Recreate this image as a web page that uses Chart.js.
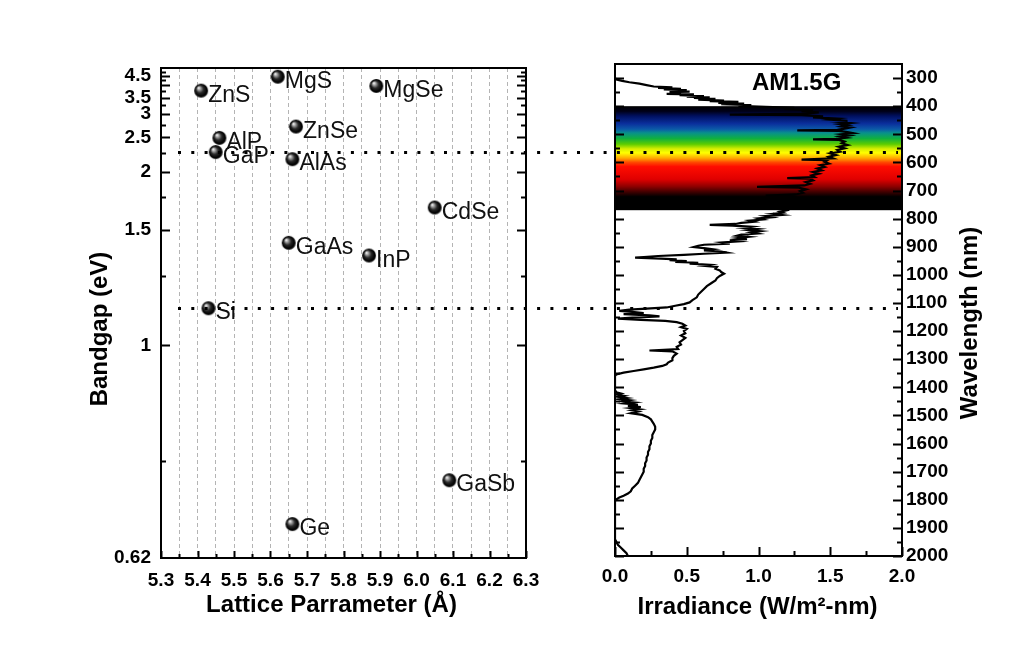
<!DOCTYPE html>
<html>
<head>
<meta charset="utf-8">
<title>Bandgap vs lattice parameter / AM1.5G</title>
<script src="https://cdn.jsdelivr.net/npm/chart.js@4.4.1/dist/chart.umd.min.js"></script>
<style>
    html, body { margin: 0; padding: 0; background: #fff; }
    #wrap { position: relative; width: 1034px; height: 651px; overflow: hidden; }
    .panel { position: absolute; top: 0; height: 651px; }
    #left-panel { left: 0; width: 570px; }
    #right-panel { left: 570px; width: 464px; }
</style>
</head>
<body>
<div id="wrap">
    <div class="panel" id="left-panel"><canvas id="chart-gap" width="570" height="651"></canvas></div>
    <div class="panel" id="right-panel"><canvas id="chart-sun" width="464" height="651"></canvas></div>
</div>
<script>
// --- Data ---

// semiconductors: lattice constant (Å) and bandgap (eV)
const materials = ['ZnS', 'MgS', 'AlP', 'GaP', 'ZnSe', 'AlAs', 'MgSe', 'CdSe', 'GaAs', 'InP', 'Si', 'GaSb', 'Ge'];
const latticeA  = [5.41, 5.62, 5.46, 5.45, 5.67, 5.66, 5.89, 6.05, 5.65, 5.87, 5.43, 6.09, 5.66];
const bandgapEv = [3.77, 4.44, 2.49, 2.26, 2.71, 2.16, 3.97, 1.66, 1.42, 1.35, 1.12, 0.72, 0.66];

// dotted guides across both panels (GaP and Si gaps)
const guideGaps = [2.26, 1.12];

// axis ticks
const latticeMajor = [5.3, 5.4, 5.5, 5.6, 5.7, 5.8, 5.9, 6.0, 6.1, 6.2, 6.3];
const latticeMinor = [5.35, 5.45, 5.55, 5.65, 5.75, 5.85, 5.95, 6.05, 6.15, 6.25];
const gapLabels = [0.62, 1, 1.5, 2, 2.5, 3, 3.5, 4.5];
const gapMajor = [1, 1.5, 2, 2.5, 3, 3.5, 4, 4.5];
const gapMinor = [0.75, 1.25, 1.75, 2.25, 2.75, 3.25, 3.75, 4.25, 4.75];
const irradianceMajor = [0, 0.5, 1, 1.5, 2];
const irradianceMinor = [0.25, 0.75, 1.25, 1.75];
const wavelengthMajor = [300, 400, 500, 600, 700, 800, 900, 1000, 1100, 1200, 1300, 1400,
    1500, 1600, 1700, 1800, 1900, 2000];
const wavelengthMinor = [350, 450, 550, 650, 750, 850, 950, 1050, 1150, 1250, 1350, 1450,
    1550, 1650, 1750, 1850, 1950];

// visible band (nm) and its colours
const visibleBand = [400, 770];
const bandStops = [
    [400, '#000000'], [418, '#000018'], [435, '#001060'], [462, '#0a2f9c'], [482, '#0c5aa8'],
    [495, '#08908c'], [515, '#10b040'], [535, '#5ccc00'], [552, '#d8ee00'], [566, '#ffff00'],
    [585, '#ffa800'], [600, '#ff4800'], [615, '#ff0c00'], [660, '#e00000'], [685, '#900000'],
    [705, '#400000'], [722, '#000000'], [770, '#000000']
];

// AM1.5G spectral irradiance (W/m2-nm) vs wavelength (nm)
const amWavelength = [
    300, 305, 310, 315, 320, 325, 330, 333, 335, 338,
    340, 343, 345, 348, 350, 353, 356, 358, 361, 364,
    366, 369, 371, 374, 377, 380, 382, 385, 388, 391,
    393, 396, 399, 402, 406, 410, 414, 418, 422, 426,
    430, 432, 436, 440, 444, 448, 452, 456, 460, 464,
    468, 472, 476, 480, 484, 486, 488, 492, 496, 500,
    504, 508, 512, 516, 518, 520, 526, 532, 538, 544,
    550, 556, 562, 568, 574, 580, 586, 590, 592, 598,
    604, 610, 616, 622, 628, 634, 640, 646, 652, 656,
    658, 664, 670, 676, 682, 687, 690, 696, 702, 708,
    714, 718, 722, 730, 740, 750, 760, 763, 770, 775,
    779, 783, 787, 791, 795, 799, 803, 807, 811, 815,
    819, 822, 825, 829, 833, 837, 841, 845, 849, 853,
    857, 861, 865, 869, 873, 877, 881, 885, 889, 893,
    897, 901, 905, 909, 913, 917, 921, 925, 929, 933,
    937, 939, 942, 945, 948, 951, 954, 957, 960, 964,
    968, 972, 978, 984, 990, 996, 1004, 1012, 1020, 1030,
    1040, 1050, 1060, 1070, 1080, 1090, 1098, 1104, 1110, 1116,
    1120, 1124, 1128, 1132, 1136, 1140, 1144, 1148, 1152, 1156,
    1160, 1164, 1168, 1174, 1180, 1186, 1192, 1200, 1208, 1216,
    1224, 1232, 1240, 1248, 1256, 1264, 1269, 1272, 1280, 1288,
    1296, 1304, 1312, 1318, 1324, 1330, 1336, 1342, 1348, 1354,
    1360, 1410, 1418, 1422, 1426, 1430, 1434, 1438, 1442, 1446,
    1450, 1454, 1458, 1462, 1466, 1470, 1474, 1478, 1482, 1486,
    1492, 1498, 1506, 1514, 1522, 1530, 1540, 1550, 1560, 1570,
    1580, 1590, 1600, 1610, 1620, 1630, 1640, 1650, 1660, 1670,
    1680, 1690, 1700, 1710, 1720, 1730, 1740, 1750, 1760, 1770,
    1778, 1786, 1792, 1798, 1805, 1940, 1950, 1960, 1970, 1980,
    1990, 2000
];
const amIrradiance = [
    0.00, 0.01, 0.05, 0.10, 0.17, 0.22, 0.27, 0.40, 0.30, 0.46,
    0.34, 0.50, 0.40, 0.52, 0.38, 0.46, 0.36, 0.55, 0.45, 0.62,
    0.50, 0.66, 0.55, 0.70, 0.58, 0.76, 0.66, 0.86, 0.72, 0.90,
    0.74, 0.95, 0.86, 1.05, 1.25, 1.18, 1.38, 1.30, 1.42, 1.34,
    0.80, 1.30, 1.45, 1.38, 1.55, 1.50, 1.62, 1.56, 1.64, 1.57,
    1.62, 1.58, 1.64, 1.60, 1.55, 1.27, 1.56, 1.62, 1.66, 1.58,
    1.63, 1.57, 1.61, 1.54, 1.38, 1.56, 1.60, 1.58, 1.62, 1.56,
    1.60, 1.55, 1.57, 1.50, 1.54, 1.49, 1.52, 1.30, 1.48, 1.46,
    1.49, 1.43, 1.46, 1.41, 1.44, 1.38, 1.42, 1.37, 1.39, 1.20,
    1.36, 1.38, 1.33, 1.36, 1.32, 0.99, 1.28, 1.33, 1.29, 1.31,
    1.26, 1.05, 1.25, 1.27, 1.24, 1.22, 0.45, 1.18, 1.20, 1.15,
    1.17, 1.10, 1.16, 1.05, 1.09, 1.00, 1.03, 0.94, 0.97, 0.88,
    0.84, 0.66, 0.82, 0.95, 0.90, 0.99, 0.93, 1.01, 0.95, 0.99,
    0.88, 0.85, 0.93, 0.86, 0.92, 0.80, 0.86, 0.75, 0.80, 0.62,
    0.58, 0.55, 0.62, 0.68, 0.62, 0.74, 0.78, 0.62, 0.48, 0.30,
    0.20, 0.14, 0.32, 0.43, 0.38, 0.50, 0.42, 0.58, 0.52, 0.66,
    0.62, 0.71, 0.70, 0.73, 0.74, 0.76, 0.73, 0.71, 0.70, 0.67,
    0.64, 0.62, 0.60, 0.58, 0.57, 0.54, 0.52, 0.48, 0.42, 0.36,
    0.22, 0.10, 0.03, 0.12, 0.20, 0.06, 0.24, 0.31, 0.12, 0.02,
    0.18, 0.35, 0.43, 0.47, 0.49, 0.46, 0.50, 0.48, 0.49, 0.46,
    0.49, 0.47, 0.45, 0.46, 0.43, 0.44, 0.24, 0.40, 0.43, 0.41,
    0.40, 0.40, 0.37, 0.36, 0.33, 0.27, 0.20, 0.13, 0.06, 0.01,
    0.00, 0.00, 0.01, 0.04, 0.01, 0.06, 0.02, 0.08, 0.03, 0.10,
    0.05, 0.13, 0.07, 0.16, 0.09, 0.18, 0.11, 0.17, 0.12, 0.16,
    0.11, 0.19, 0.23, 0.25, 0.26, 0.27, 0.28, 0.28, 0.27, 0.26,
    0.26, 0.25, 0.25, 0.24, 0.24, 0.23, 0.23, 0.22, 0.22, 0.21,
    0.21, 0.20, 0.20, 0.19, 0.18, 0.17, 0.16, 0.14, 0.12, 0.11,
    0.09, 0.06, 0.03, 0.01, 0.00, 0.00, 0.01, 0.02, 0.04, 0.06,
    0.08, 0.09
];

// --- Helpers ---

const FONT = '"Liberation Sans", Arial, sans-serif';
const tickFont = { family: FONT, size: 19, weight: 'bold' };
const DOTS = [3, 10.3];

// energy axis that is linear in 1/E (i.e. linear in wavelength)
class ReciprocalScale extends Chart.LinearScale {
    getPixelForValue(value) {
        const lo = 1 / this.max, hi = 1 / this.min;
        return this.getPixelForDecimal((hi - 1 / value) / (hi - lo));
    }
    getValueForPixel(pixel) {
        const lo = 1 / this.max, hi = 1 / this.min;
        return 1 / (hi - this.getDecimalForPixel(pixel) * (hi - lo));
    }
}
ReciprocalScale.id = 'reciprocal';
ReciprocalScale.defaults = Chart.LinearScale.defaults;
Chart.register(ReciprocalScale);

// shaded sphere used as the point marker
const makeBall = (r) => {
    const c = document.createElement('canvas');
    c.width = c.height = 2 * r + 2;
    const g = c.getContext('2d');
    const m = r + 1;
    const grad = g.createRadialGradient(m - r * 0.38, m - r * 0.42, r * 0.05, m, m, r);
    grad.addColorStop(0, '#f4f4f4');
    grad.addColorStop(0.22, '#9a9a9a');
    grad.addColorStop(0.5, '#2a2a2a');
    grad.addColorStop(0.85, '#000');
    grad.addColorStop(1, '#303030');
    g.fillStyle = grad;
    g.beginPath();
    g.arc(m, m, r, 0, Math.PI * 2);
    g.fill();
    return c;
};

// frame around the plot area plus inward tick marks
const frameTicks = (marks) => ({
    id: 'frameTicks',
    afterDraw(chart) {
        const { ctx, chartArea: a } = chart;
        ctx.save();
        ctx.strokeStyle = '#000';
        ctx.lineWidth = 2;
        marks.forEach(m => {
            const scale = chart.scales[m.axis];
            m.values.forEach(v => {
                const p = Math.round(scale.getPixelForValue(v)) + 0.5;
                ctx.beginPath();
                if (scale.isHorizontal()) {
                    ctx.moveTo(p, a.bottom);
                    ctx.lineTo(p, a.bottom - m.len);
                } else {
                    ctx.moveTo(a.left, p);
                    ctx.lineTo(a.left + m.len, p);
                    ctx.moveTo(a.right, p);
                    ctx.lineTo(a.right - m.len, p);
                }
                ctx.stroke();
            });
        });
        ctx.strokeRect(a.left, a.top, a.right - a.left, a.bottom - a.top);
        ctx.restore();
    }
});

// axis titles drawn relative to the plot area
const axisTitles = (items) => ({
    id: 'axisTitles',
    afterDraw(chart) {
        const { ctx, chartArea: a } = chart;
        const midX = (a.left + a.right) / 2, midY = (a.top + a.bottom) / 2;
        ctx.save();
        ctx.font = 'bold 24px ' + FONT;
        ctx.fillStyle = '#000';
        ctx.textAlign = 'center';
        ctx.textBaseline = 'alphabetic';
        items.forEach(t => {
            ctx.save();
            if (t.side === 'bottom') {
                ctx.translate(midX + t.shift, a.bottom + t.off);
            } else {
                ctx.translate((t.side === 'left' ? a.left : a.right) + t.off, midY + t.shift);
                ctx.rotate(-Math.PI / 2);
            }
            ctx.fillText(t.text, 0, 0);
            ctx.restore();
        });
        ctx.restore();
    }
});

const drawGuides = (ctx, x0, x1, ys, phase) => {
    ctx.save();
    ctx.strokeStyle = '#000';
    ctx.lineWidth = 3;
    ctx.setLineDash(DOTS);
    ctx.lineDashOffset = phase;
    ys.forEach(y => {
        const yy = Math.round(y) + 0.5;
        ctx.beginPath();
        ctx.moveTo(x0, yy);
        ctx.lineTo(x1, yy);
        ctx.stroke();
    });
    ctx.restore();
};

const GUIDE_INSET = 17;

// --- Left panel: bandgap vs lattice parameter ---

const materialLabels = {
    id: 'materialLabels',
    afterDatasetsDraw(chart) {
        const { ctx } = chart;
        ctx.save();
        ctx.font = '23px ' + FONT;
        ctx.fillStyle = '#111';
        ctx.textBaseline = 'alphabetic';
        chart.getDatasetMeta(0).data.forEach((pt, i) => {
            ctx.fillText(materials[i], pt.x + 7, pt.y + 11);
        });
        ctx.restore();
    }
};

const gapGuides = {
    id: 'gapGuides',
    afterDraw(chart) {
        const { ctx, chartArea: a, scales: { y } } = chart;
        drawGuides(ctx, a.left + GUIDE_INSET, chart.width, guideGaps.map(e => y.getPixelForValue(e)), 0);
    }
};

const gapChart = new Chart(document.getElementById('chart-gap'), {
    type: 'scatter',
    data: {
        datasets: [{
            data: materials.map((m, i) => ({ x: latticeA[i], y: bandgapEv[i] })),
            pointStyle: makeBall(7),
            pointRadius: 7,
            pointHoverRadius: 7
        }]
    },
    options: {
        responsive: false,
        animation: false,
        events: [],
        layout: { padding: { top: 68, right: 44, bottom: 0, left: 0 } },
        plugins: { legend: { display: false }, tooltip: { enabled: false } },
        scales: {
            x: {
                type: 'linear',
                min: 5.3,
                max: 6.3,
                afterBuildTicks: s => {
                    s.ticks = [...latticeMajor, ...latticeMinor].sort((p, q) => p - q).map(v => ({ value: v }));
                },
                afterFit: s => { s.height = 93; },
                ticks: {
                    autoSkip: false,
                    maxRotation: 0,
                    padding: 11,
                    color: '#000',
                    font: tickFont,
                    callback: v => latticeMajor.includes(v) ? v.toFixed(1) : ''
                },
                grid: { display: true, color: '#b4b4b4', lineWidth: 1, drawTicks: false },
                border: { display: false, dash: [4, 3] }
            },
            y: {
                type: 'reciprocal',
                min: 0.62,
                max: 5,
                afterBuildTicks: s => { s.ticks = gapLabels.map(v => ({ value: v })); },
                afterFit: s => { s.width = 161; },
                ticks: {
                    autoSkip: false,
                    padding: 10,
                    color: '#000',
                    font: tickFont,
                    callback: v => String(v)
                },
                grid: { display: false, drawTicks: false },
                border: { display: false }
            }
        }
    },
    plugins: [
        materialLabels,
        frameTicks([
            { axis: 'x', values: latticeMajor, len: 7 },
            { axis: 'x', values: latticeMinor, len: 4 },
            { axis: 'y', values: gapMajor, len: 9 },
            { axis: 'y', values: gapMinor, len: 5 }
        ]),
        axisTitles([
            { side: 'left', text: 'Bandgap (eV)', off: -54, shift: 16 },
            { side: 'bottom', text: 'Lattice Parrameter (Å)', off: 54, shift: -12 }
        ]),
        gapGuides
    ]
});

// --- Right panel: AM1.5G spectrum vs wavelength ---

const spectrumBand = {
    id: 'spectrumBand',
    beforeDatasetsDraw(chart) {
        const { ctx, chartArea: a, scales: { y } } = chart;
        const top = y.getPixelForValue(visibleBand[0]);
        const bottom = y.getPixelForValue(visibleBand[1]);
        const span = visibleBand[1] - visibleBand[0];
        const grad = ctx.createLinearGradient(0, top, 0, bottom);
        bandStops.forEach(([nm, c]) => grad.addColorStop((nm - visibleBand[0]) / span, c));
        ctx.save();
        ctx.fillStyle = grad;
        ctx.fillRect(a.left, top, a.right - a.left, bottom - top);
        ctx.restore();
    }
};

const sunLabel = {
    id: 'sunLabel',
    afterDatasetsDraw(chart) {
        const { ctx, chartArea: a } = chart;
        ctx.save();
        ctx.font = 'bold 24px ' + FONT;
        ctx.fillStyle = '#000';
        ctx.textBaseline = 'alphabetic';
        ctx.fillText('AM1.5G', a.left + 137, a.top + 26);
        ctx.restore();
    }
};

// continue the dotted guides from the left panel, in phase
const sunGuides = {
    id: 'sunGuides',
    afterDraw(chart) {
        const { ctx, chartArea: a } = chart;
        const panelLeft = document.getElementById('right-panel').offsetLeft;
        const start = gapChart.chartArea.left + GUIDE_INSET;
        const period = DOTS[0] + DOTS[1];
        const ys = guideGaps.map(e => gapChart.scales.y.getPixelForValue(e));
        drawGuides(ctx, 0, a.right - 4, ys, (panelLeft - start) % period);
    }
};

new Chart(document.getElementById('chart-sun'), {
    type: 'scatter',
    data: {
        datasets: [{
            data: amWavelength.map((w, i) => ({ x: amIrradiance[i], y: w })),
            showLine: true,
            borderColor: '#000',
            borderWidth: 2.2,
            pointRadius: 0,
            pointHoverRadius: 0,
            tension: 0
        }]
    },
    options: {
        responsive: false,
        animation: false,
        events: [],
        layout: { padding: { top: 64, right: 0, bottom: 0, left: 45 } },
        plugins: { legend: { display: false }, tooltip: { enabled: false } },
        scales: {
            x: {
                type: 'linear',
                min: 0,
                max: 2,
                afterBuildTicks: s => { s.ticks = irradianceMajor.map(v => ({ value: v })); },
                afterFit: s => { s.height = 95; },
                ticks: {
                    autoSkip: false,
                    maxRotation: 0,
                    padding: 9,
                    color: '#000',
                    font: tickFont,
                    callback: v => v.toFixed(1)
                },
                grid: { display: false, drawTicks: false },
                border: { display: false }
            },
            y: {
                type: 'linear',
                position: 'right',
                reverse: true,
                min: 250,
                max: 2000,
                afterBuildTicks: s => { s.ticks = wavelengthMajor.map(v => ({ value: v })); },
                afterFit: s => { s.width = 132; },
                ticks: {
                    autoSkip: false,
                    padding: 4,
                    color: '#000',
                    font: tickFont,
                    callback: v => String(v)
                },
                grid: { display: false, drawTicks: false },
                border: { display: false }
            }
        }
    },
    plugins: [
        spectrumBand,
        sunLabel,
        frameTicks([
            { axis: 'x', values: irradianceMajor, len: 9 },
            { axis: 'x', values: irradianceMinor, len: 5 },
            { axis: 'y', values: wavelengthMajor, len: 9 },
            { axis: 'y', values: wavelengthMinor, len: 5 }
        ]),
        axisTitles([
            { side: 'bottom', text: 'Irradiance (W/m²-nm)', off: 58, shift: -1 },
            { side: 'right', text: 'Wavelength (nm)', off: 75, shift: 13 }
        ]),
        sunGuides
    ]
});
</script>
</body>
</html>
